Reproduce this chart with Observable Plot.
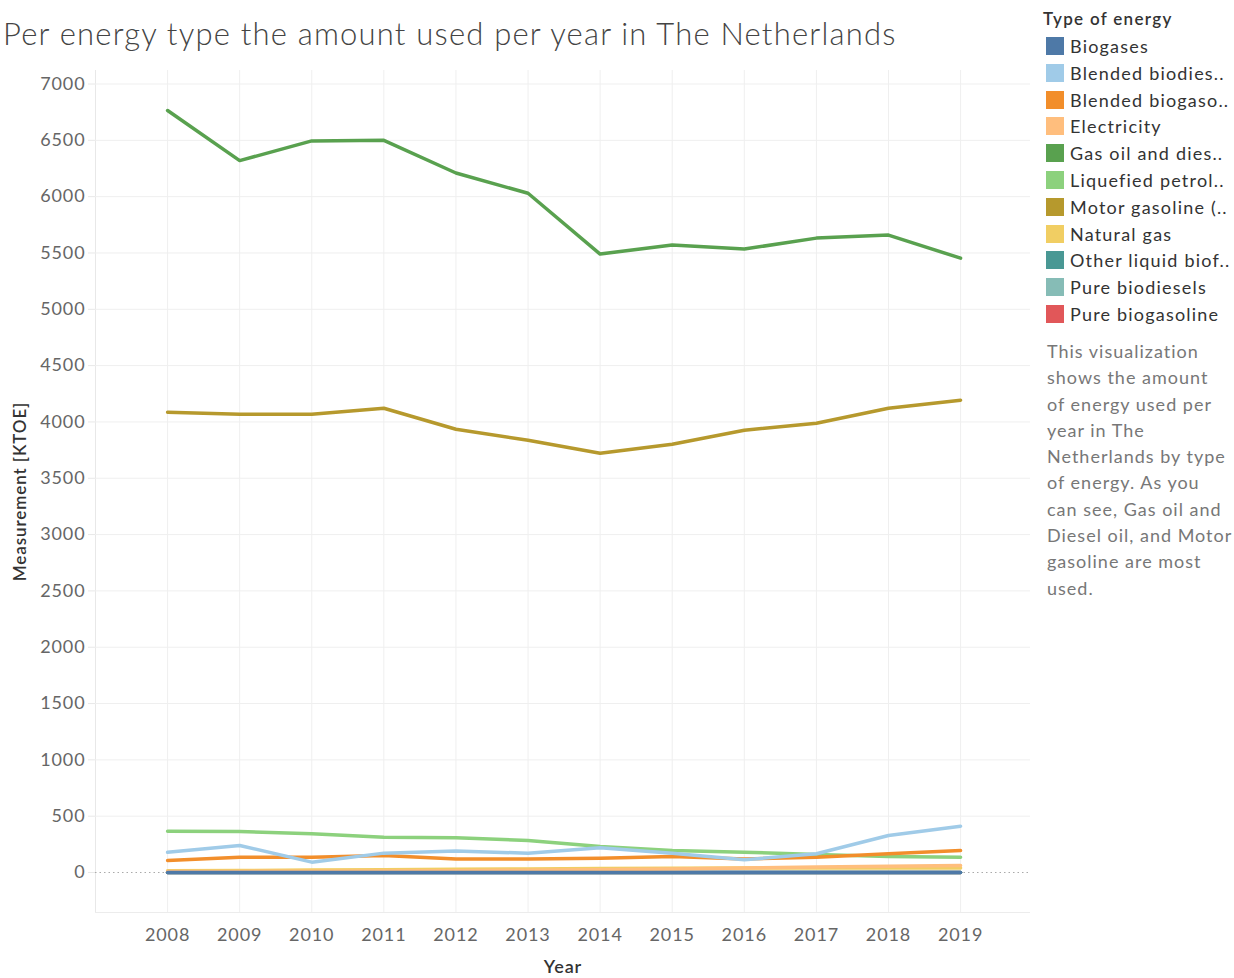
<!DOCTYPE html>
<html>
<head>
<meta charset="utf-8">
<script src="https://cdn.jsdelivr.net/npm/d3@7"></script>
<script src="https://cdn.jsdelivr.net/npm/@observablehq/plot@0.6"></script>
<style>
  html, body { margin: 0; padding: 0; background: #fff; }
  body { width: 1234px; height: 978px; position: relative; overflow: hidden; font-family: Lato, "Open Sans", sans-serif; }
  #title { position: absolute; left: 3px; top: 14px; font-size: 31px; color: #444; white-space: nowrap; letter-spacing: 1.2px; font-weight: 300; }
  #chart { position: absolute; left: 0; top: 60px; }
  #chart svg text { letter-spacing: 0.9px; }
  #legend { position: absolute; left: 1043px; top: 8px; }
  #legend .ttl { font-size: 17px; color: #333; font-weight: 600; height: 26px; letter-spacing: 1.3px; }
  #legend .item { position: relative; height: 26.8px; font-size: 18px; color: #333; white-space: nowrap; letter-spacing: 1.2px; }
  #legend .sw { position: absolute; left: 3px; top: 3px; width: 18px; height: 18px; }
  #legend .lbl { position: absolute; left: 27px; top: 0px; line-height: 24px; }
  #desc { position: absolute; left: 1047px; top: 338px; font-size: 18px; line-height: 26.3px; color: #777; white-space: nowrap; letter-spacing: 1px; }
</style>
</head>
<body>
<div id="title">Per energy type the amount used per year in The Netherlands</div>
<div id="chart"></div>
<div id="legend"></div>
<div id="desc"></div>
<script>
// ---- data ----
const years = [2008, 2009, 2010, 2011, 2012, 2013, 2014, 2015, 2016, 2017, 2018, 2019];
const energyTypes = [
  "Biogases", "Blended biodiesels", "Blended biogasoline", "Electricity",
  "Gas oil and diesel oil", "Liquefied petroleum gases", "Motor gasoline (excl. biofuels)",
  "Natural gas", "Other liquid biofuels", "Pure biodiesels", "Pure biogasoline"
];
const legendLabels = [
  "Biogases", "Blended biodies..", "Blended biogaso..", "Electricity",
  "Gas oil and dies..", "Liquefied petrol..", "Motor gasoline (..",
  "Natural gas", "Other liquid biof..", "Pure biodiesels", "Pure biogasoline"
];
const colors = ["#4e79a7", "#a0cbe8", "#f28e2b", "#ffbe7d", "#59a14f", "#8cd17d", "#b6992d", "#f1ce63", "#499894", "#86bcb6", "#e15759"];

const biogases            = [0, 0, 0, 0, 0, 0, 0, 0, 0, 0, 0, 0];
const blendedBiodiesels   = [180, 240, 92, 172, 190, 172, 219, 172, 113, 166, 329, 411];
const blendedBiogasoline  = [107, 136, 136, 151, 121, 121, 127, 142, 121, 136, 166, 195];
const electricity         = [8, 10, 12, 14, 16, 20, 25, 32, 40, 48, 55, 62];
const gasOilDiesel        = [6765, 6320, 6495, 6500, 6210, 6030, 5490, 5570, 5535, 5632, 5659, 5454];
const lpg                 = [367, 364, 344, 314, 308, 284, 230, 195, 180, 160, 142, 136];
const motorGasoline       = [4086, 4069, 4069, 4122, 3935, 3838, 3722, 3802, 3926, 3989, 4122, 4193];
const naturalGas          = [15, 18, 22, 25, 28, 32, 36, 38, 40, 40, 40, 40];
const otherLiquidBiofuels = [0, 0, 0, 0, 0, 0, 0, 0, 0, 0, 0, 0];
const pureBiodiesels      = [0, 0, 0, 0, 0, 0, 0, 0, 0, 0, 0, 0];
const pureBiogasoline     = [0, 0, 0, 0, 0, 0, 0, 0, 0, 0, 0, 0];

const seriesValues = [biogases, blendedBiodiesels, blendedBiogasoline, electricity, gasOilDiesel, lpg,
  motorGasoline, naturalGas, otherLiquidBiofuels, pureBiodiesels, pureBiogasoline];

const yTicks = [0, 500, 1000, 1500, 2000, 2500, 3000, 3500, 4000, 4500, 5000, 5500, 6000, 6500, 7000];

const descLines = ["This visualization", "shows the amount", "of energy used per", "year in The",
  "Netherlands by type", "of energy. As you", "can see, Gas oil and", "Diesel oil, and Motor",
  "gasoline are most", "used."];

// rows: drawn in reverse legend order so Biogases ends on top
const rows = [];
for (let i = energyTypes.length - 1; i >= 0; i--) {
  years.forEach((yr, j) => rows.push({ type: energyTypes[i], year: yr, value: seriesValues[i][j] }));
}

const chart = Plot.plot({
  width: 1035,
  height: 918,
  marginLeft: 95,
  marginRight: 5,
  marginTop: 10,
  marginBottom: 66,
  style: { fontFamily: "Lato, 'Open Sans', sans-serif", fontSize: "18px", color: "#666", background: "transparent" },
  x: { domain: [2007, 2019.97], label: null },
  y: { domain: [-355, 7120], label: null },
  color: { domain: energyTypes, range: colors },
  marks: [
    Plot.ruleX(years, { stroke: "#efefef", strokeWidth: 1 }),
    Plot.ruleX([2007], { stroke: "#e8e8e8", strokeWidth: 1 }),
    Plot.ruleY(yTicks.filter(d => d !== 0), { stroke: "#efefef", strokeWidth: 1 }),
    Plot.ruleY([-355], { stroke: "#ececec", strokeWidth: 1 }),
    Plot.axisY(yTicks, { tickSize: 7, tickPadding: 3, stroke: "#e8e8e8", fill: "#666", fontSize: 18, label: null, tickFormat: d => String(d) }),
    Plot.axisX(years, { tickSize: 0, tickPadding: 16, fill: "#666", fontSize: 18, label: null, tickFormat: d => String(d) }),
    Plot.ruleY([0], { stroke: "#aaa", strokeWidth: 1, strokeDasharray: "1.5,3" }),
    Plot.line(rows, { x: "year", y: "value", z: "type", stroke: "type", strokeWidth: 3.5, strokeLinejoin: "round", strokeLinecap: "round" }),
    Plot.text(["Year"], { frameAnchor: "bottom", dy: 60, fontSize: 18, fill: "#333", fontWeight: 600 }),
    Plot.text(["Measurement [KTOE]"], { frameAnchor: "left", textAnchor: "middle", dx: -75, rotate: -90, fontSize: 17, fill: "#333", fontWeight: 600 })
  ]
});
document.getElementById("chart").appendChild(chart);

// legend
const legend = document.getElementById("legend");
const t = document.createElement("div");
t.className = "ttl";
t.textContent = "Type of energy";
legend.appendChild(t);
energyTypes.forEach((e, i) => {
  const it = document.createElement("div");
  it.className = "item";
  const sw = document.createElement("div");
  sw.className = "sw";
  sw.style.background = colors[i];
  const lb = document.createElement("div");
  lb.className = "lbl";
  lb.textContent = legendLabels[i];
  it.appendChild(sw);
  it.appendChild(lb);
  legend.appendChild(it);
});

document.getElementById("desc").innerHTML = descLines.map(l => l.replace(/&/g, "&amp;")).join("<br>");
</script>
</body>
</html>
